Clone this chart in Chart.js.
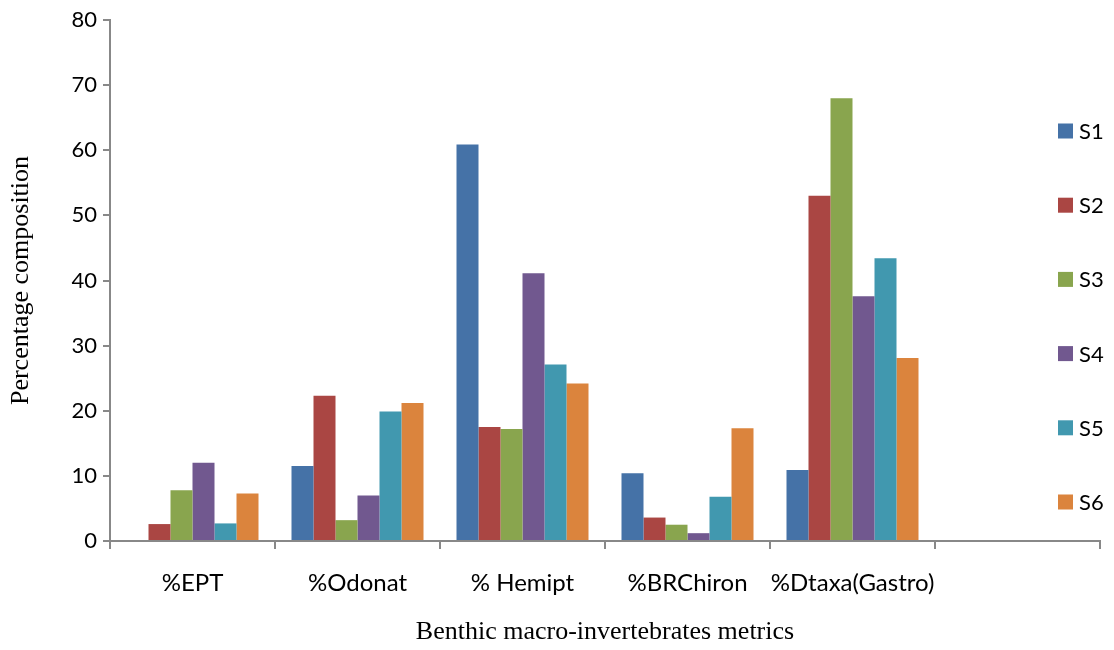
<!DOCTYPE html>
<html>
<head>
<meta charset="utf-8">
<script src="https://cdn.jsdelivr.net/npm/chart.js@4"></script>
<style>
  html, body { margin: 0; padding: 0; background: #fff; }
  #wrap { width: 1114px; height: 650px; }
</style>
</head>
<body>
<div id="wrap"><canvas id="myChart" width="1114" height="650"></canvas></div>
<script>
// categories on the x axis (last slot is empty in the original)
let labels = ['%EPT', '%Odonat', '% Hemipt', '%BRChiron', '%Dtaxa(Gastro)', '']
let seriesNames = ['S1', 'S2', 'S3', 'S4', 'S5', 'S6']
let colors = ['#4572A7', '#AA4643', '#89A54E', '#71588F', '#4198AF', '#DB843D']

// values
let s1 = [0, 11.5, 60.9, 10.4, 10.9, null]
let s2 = [2.6, 22.3, 17.5, 3.6, 53.0, null]
let s3 = [7.8, 3.2, 17.2, 2.5, 68.0, null]
let s4 = [12.0, 7.0, 41.1, 1.2, 37.6, null]
let s5 = [2.7, 19.9, 27.1, 6.8, 43.4, null]
let s6 = [7.3, 21.2, 24.2, 17.3, 28.1, null]

let yTicks = [0, 10, 20, 30, 40, 50, 60, 70, 80]

let allSeries = [s1, s2, s3, s4, s5, s6]
let datasets = []
for (let i = 0; i < allSeries.length; i++) {
  datasets.push({
    label: seriesNames[i],
    data: allSeries[i],
    backgroundColor: colors[i],
    borderWidth: 0,
    categoryPercentage: 0.8,
    barPercentage: 1.0
  })
}

// legend drawn by hand, it sits over the empty last category
const sideLegend = {
  id: 'sideLegend',
  afterDraw(chart) {
    const c = chart.ctx
    c.save()
    c.font = '22px Lato'
    c.textBaseline = 'middle'
    for (let i = 0; i < seriesNames.length; i++) {
      let y = 131 + i * 74.2
      c.fillStyle = colors[i]
      c.fillRect(1058, y - 7.5, 15, 15)
      c.fillStyle = '#000'
      c.fillText(seriesNames[i], 1079, y + 1)
    }
    c.restore()
  }
}

const ctx = document.getElementById('myChart')
new Chart(ctx, {
  type: 'bar',
  data: { labels: labels, datasets: datasets },
  plugins: [sideLegend],
  options: {
    responsive: false,
    animation: false,
    layout: { padding: { top: 20, right: 14, left: 0, bottom: 0 } },
    plugins: {
      legend: { display: false },
      tooltip: { enabled: false }
    },
    scales: {
      x: {
        afterFit: s => { s.height = 109 },
        grid: {
          offset: true,
          drawOnChartArea: false,
          drawTicks: true,
          tickLength: 8,
          color: '#888',
          lineWidth: 2
        },
        border: { color: '#888', width: 2 },
        ticks: { color: '#000', font: { family: 'Lato', size: 24 }, padding: 20, maxRotation: 0, autoSkip: false },
        title: {
          display: true,
          text: 'Benthic macro-invertebrates metrics',
          color: '#000',
          font: { family: 'Liberation Serif', size: 26 },
          padding: { top: 0, bottom: 2 }
        }
      },
      y: {
        min: 0,
        max: 80,
        afterFit: s => { s.width = 110 },
        afterBuildTicks: s => { s.ticks = yTicks.map(v => ({ value: v })) },
        grid: {
          drawOnChartArea: false,
          tickLength: 7,
          color: '#888',
          lineWidth: 2
        },
        border: { color: '#888', width: 2 },
        ticks: { color: '#000', font: { family: 'Lato', size: 22 }, padding: 6 },
        title: {
          display: true,
          text: 'Percentage composition',
          color: '#000',
          font: { family: 'Liberation Serif', size: 26 },
          padding: { top: 6, bottom: 0 }
        }
      }
    }
  }
})
</script>
</body>
</html>
